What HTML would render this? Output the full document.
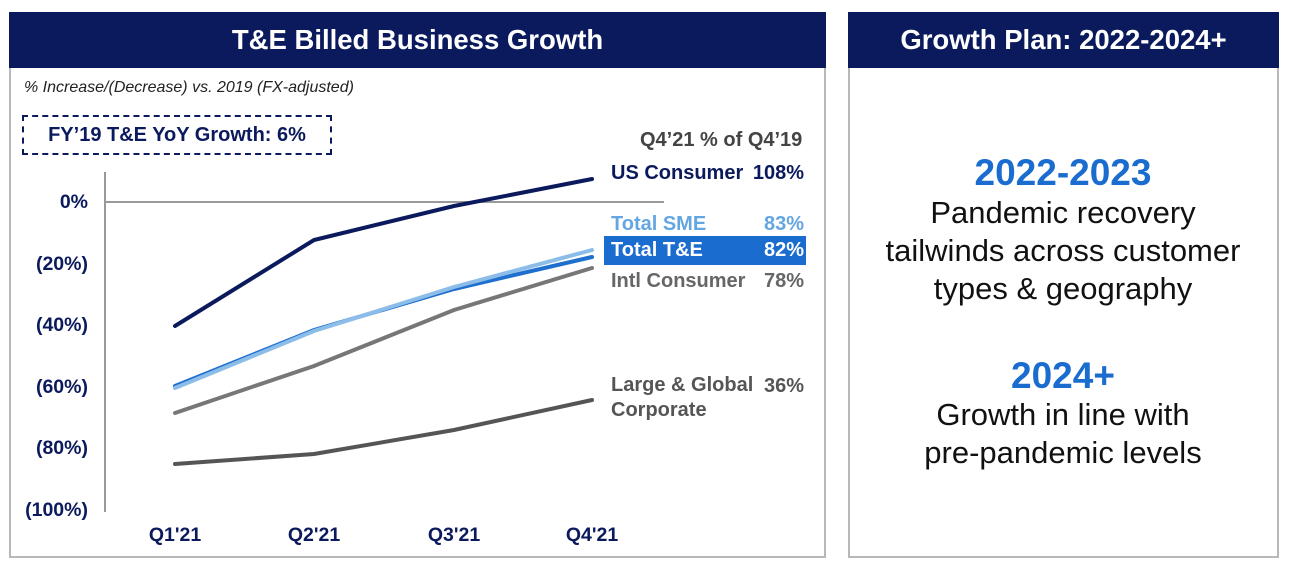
<!DOCTYPE html>
<html><head><style>
body{margin:0;width:1292px;height:569px;background:#fff;font-family:"Liberation Sans",Arial,sans-serif;position:relative;overflow:hidden}
.panel{position:absolute;border:2px solid #b8b8b8;box-sizing:border-box}
.hdr{position:absolute;background:#0b1a5c;color:#fff;font-weight:bold;font-size:27.5px;text-align:center;line-height:56px}
.t{position:absolute;white-space:nowrap;font-weight:bold;font-size:20px}
.v{position:absolute;white-space:nowrap;font-weight:bold;font-size:20px;right:488px;text-align:right}
.rc{position:absolute;left:848px;width:430px;text-align:center;color:#111;font-size:31px}
</style></head><body>
<div class="panel" style="left:9px;top:12px;width:817px;height:546px"></div>
<div class="hdr" style="left:9px;top:12px;width:817px;height:56px">T&amp;E Billed Business Growth</div>
<div class="panel" style="left:848px;top:12px;width:431px;height:546px"></div>
<div class="hdr" style="left:848px;top:12px;width:431px;height:56px">Growth Plan: 2022-2024+</div>

<div class="t" style="left:24px;top:79px;font-size:16px;font-weight:normal;font-style:italic;color:#222">% Increase/(Decrease) vs. 2019 (FX-adjusted)</div>
<div style="position:absolute;left:22px;top:115px;width:310px;height:40px;border:2px dashed #0b1a5c;box-sizing:border-box"></div>
<div class="t" style="left:22px;top:115px;width:310px;line-height:40px;text-align:center;color:#0b1a5c">FY’19 T&amp;E YoY Growth: 6%</div>

<svg style="position:absolute;left:0;top:0" width="1292" height="569">
<line x1="105" y1="172" x2="105" y2="512" stroke="#999" stroke-width="2"/>
<line x1="105" y1="202" x2="664" y2="202" stroke="#999" stroke-width="2"/>
<g fill="none" stroke-width="4" stroke-linecap="round">
<polyline points="175,464 314,454 454,430 592,400" stroke="#555"/>
<polyline points="175,413 314,366 454,310 592,268" stroke="#777"/>
<polyline points="175,386 314,330 454,289 592,257" stroke="#1f6fcf"/>
<polyline points="175,388 314,331 454,287 592,250" stroke="#8cbde9"/>
<polyline points="175,326 314,240 454,206 592,179" stroke="#0b1a5c"/>
</g>
<g font-family="Liberation Sans,Arial,sans-serif" font-weight="bold" font-size="19.5" fill="#0b1a5c" text-anchor="end">
<text x="88" y="208">0%</text><text x="88" y="270">(20%)</text><text x="88" y="331">(40%)</text>
<text x="88" y="393">(60%)</text><text x="88" y="454">(80%)</text><text x="88" y="516">(100%)</text>
</g>
<g font-family="Liberation Sans,Arial,sans-serif" font-weight="bold" font-size="19.5" fill="#0b1a5c" text-anchor="middle">
<text x="175" y="541">Q1'21</text><text x="314" y="541">Q2'21</text><text x="454" y="541">Q3'21</text><text x="592" y="541">Q4'21</text>
</g>
</svg>

<div class="t" style="left:640px;top:129px;color:#444">Q4’21 % of Q4’19</div>
<div class="t" style="left:611px;top:162px;color:#0b1a5c">US Consumer</div>
<div class="v" style="top:162px;color:#0b1a5c">108%</div>
<div class="t" style="left:611px;top:213px;color:#64a6e2">Total SME</div>
<div class="v" style="top:213px;color:#64a6e2">83%</div>
<div style="position:absolute;left:604px;top:236px;width:202px;height:29px;background:#1a6ccf"></div>
<div class="t" style="left:611px;top:239px;color:#fff">Total T&amp;E</div>
<div class="v" style="top:239px;color:#fff">82%</div>
<div class="t" style="left:611px;top:270px;color:#666">Intl Consumer</div>
<div class="v" style="top:270px;color:#666">78%</div>
<div class="t" style="left:611px;top:373px;color:#555;line-height:25px">Large &amp; Global<br>Corporate</div>
<div class="v" style="top:375px;color:#555">36%</div>

<div class="rc" style="top:152px;font-size:37px;font-weight:bold;color:#1a6ccf">2022-2023</div>
<div class="rc" style="top:194px;line-height:38px">Pandemic recovery<br>tailwinds across customer<br>types &amp; geography</div>
<div class="rc" style="top:355px;font-size:37px;font-weight:bold;color:#1a6ccf">2024+</div>
<div class="rc" style="top:396px;line-height:38px">Growth in line with<br>pre-pandemic levels</div>
</body></html>
